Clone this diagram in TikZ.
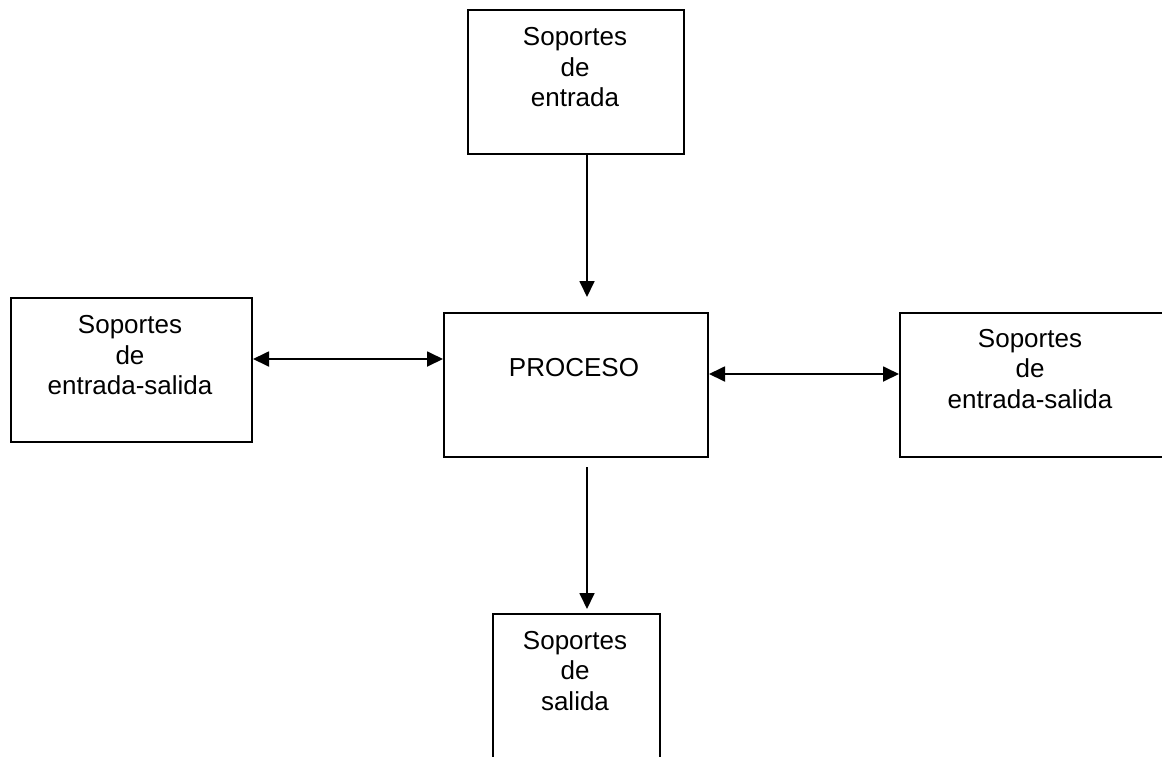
\documentclass[tikz,border=0pt]{standalone}
\usepackage{fontspec}
\setmainfont{Liberation Sans}
\usetikzlibrary{arrows.meta}
\begin{document}
\begin{tikzpicture}[x=1pt,y=-1pt,
  box/.style={draw, line width=2pt, rectangle, inner sep=0pt, anchor=north west},
  lbl/.style={anchor=north, align=center, inner sep=0pt, font=\fontsize{26}{30.5}\selectfont},
  link/.style={line width=1.8pt, -{Triangle[length=16pt,width=15pt]}},
  both/.style={line width=1.8pt, {Triangle[length=16pt,width=15pt]}-{Triangle[length=16pt,width=15pt]}}]
\useasboundingbox (0,0) rectangle (1162,756);

% boxes
\node[box, minimum width=216pt, minimum height=144pt] (entrada) at (467,9) {};
\node[box, minimum width=241pt, minimum height=144pt] (esL) at (10,297) {};
\node[box, minimum width=264pt, minimum height=144pt] (proceso) at (443,311.5) {};
\node[box, minimum width=270pt, minimum height=144pt] (esR) at (899,311.5) {};
\node[box, minimum width=167.5pt, minimum height=160pt] (salida) at (491.5,613) {};

% texts
\node[lbl] (tEntrada) at (575,25.5) {\rule{0pt}{20pt}Soportes\\de\\entrada};
\node[lbl] (tEsL) at (130,313.5) {\rule{0pt}{20pt}Soportes\\de\\entrada-salida};
\node[lbl] (tProceso) at (574,356.7) {\rule{0pt}{20pt}PROCESO};
\node[lbl] (tEsR) at (1030,327) {\rule{0pt}{20pt}Soportes\\de\\entrada-salida};
\node[lbl] (tSalida) at (575,629) {\rule{0pt}{20pt}Soportes\\de\\salida};

% connectors
\coordinate (inTip) at (587,297);
\coordinate (outStart) at (587,467);
\coordinate (outTip) at (587,609);
\coordinate (lRow) at (0,359);
\coordinate (rRow) at (0,374);

\draw[link] (entrada.south -| inTip) -- (inTip);
\draw[link] (outStart) -- (outTip);
\draw[both] (esL.east |- lRow) -- (proceso.west |- lRow);
\draw[both] (proceso.east |- rRow) -- (esR.west |- rRow);
\end{tikzpicture}
\end{document}
